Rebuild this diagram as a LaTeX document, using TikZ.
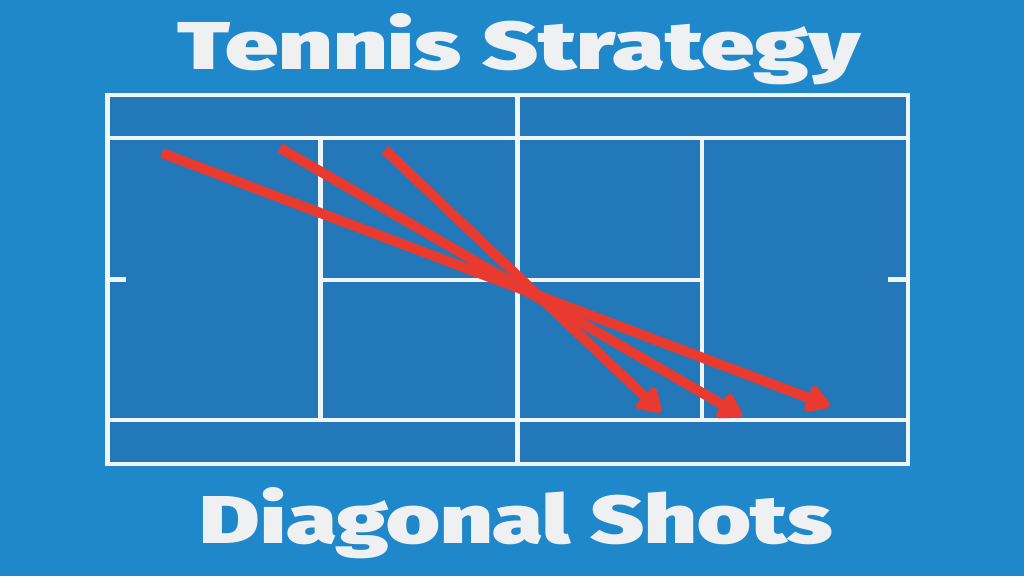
\documentclass[tikz,border=0pt]{standalone}
\usepackage{fontspec}
\usetikzlibrary{arrows.meta}
\newfontfamily\titlefont{Fira Sans}[UprightFont=* Black]
\definecolor{bgblue}{RGB}{30,136,202}
\definecolor{courtblue}{RGB}{35,120,185}
\definecolor{courtline}{RGB}{240,245,250}
\definecolor{shotred}{RGB}{232,58,46}
\definecolor{titlewhite}{RGB}{238,240,242}
\tikzset{
  courtln/.style={draw=courtline, line width=4.5pt},
  shot/.style={draw=shotred, line width=10pt, -{Triangle[length=27pt,width=31pt,round]}},
  titletext/.style={inner sep=0pt, anchor=base, text=titlewhite}
}
\begin{document}
\begin{tikzpicture}[x=1pt,y=-1pt]
\useasboundingbox (0,0) rectangle (1024,576);
\fill[bgblue] (0,0) rectangle (1024,576);
% court
\path[courtln, fill=courtblue] (107.5,95) rectangle (908,464);
\draw[courtln] (107.5,138) -- (908,138);
\draw[courtln] (107.5,420) -- (908,420);
\draw[courtln] (517.5,95) -- (517.5,464);
\draw[courtln] (320.5,138) -- (320.5,420);
\draw[courtln] (702,138) -- (702,420);
\draw[courtln] (320.5,280) -- (702,280);
\draw[courtln] (107.5,279.5) -- (126,279.5);
\draw[courtln] (888,279.5) -- (908,279.5);
% shots
\coordinate (s1a) at (162,153);
\coordinate (s1b) at (830,406);
\coordinate (s2a) at (280,148);
\coordinate (s2b) at (742,416);
\coordinate (s3a) at (385,150);
\coordinate (s3b) at (661,412);
\draw[shot] (s1a) -- (s1b);
\draw[shot] (s2a) -- (s2b);
\draw[shot] (s3a) -- (s3b);
% titles
\node[titletext] (title) at (519,69) {\resizebox{682pt}{56pt}{\titlefont Tennis Strategy}};
\node[titletext] (subtitle) at (516.5,543) {\resizebox{633pt}{56pt}{\titlefont Diagonal Shots}};
\end{tikzpicture}
\end{document}
